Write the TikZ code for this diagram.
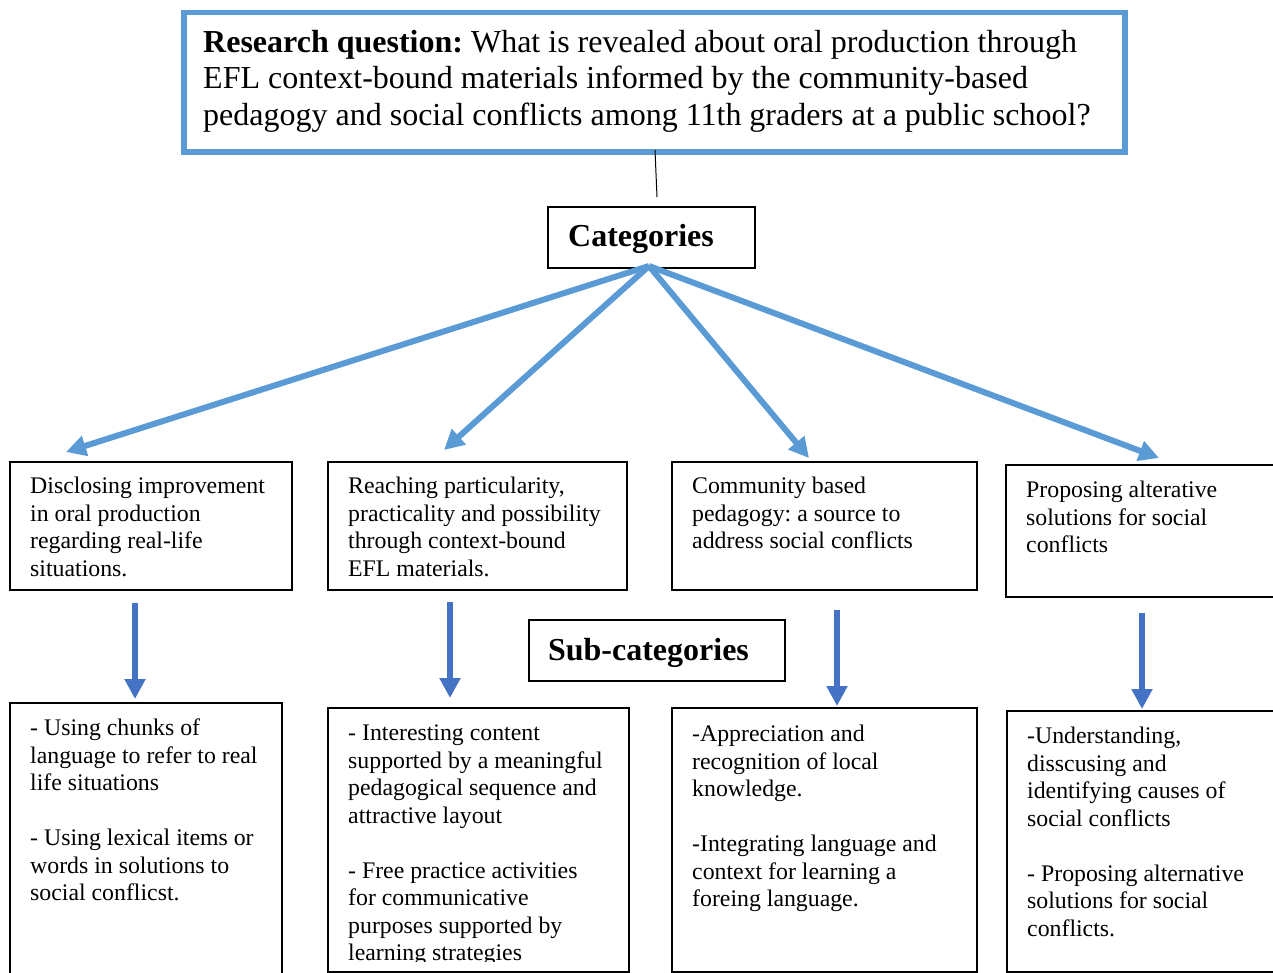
\documentclass[tikz,border=0pt]{standalone}
\usepackage{fontspec}
\setmainfont{Liberation Serif}
\usetikzlibrary{arrows.meta}
\definecolor{lblue}{RGB}{91,155,213}
\definecolor{dblue}{RGB}{68,114,196}
\frenchspacing
\begin{document}
\begin{tikzpicture}[x=1pt,y=-1pt,
  box/.style={draw=black,line width=1.6pt,anchor=north west,inner sep=0pt},
  rqbox/.style={draw=lblue,line width=5.5pt,anchor=north west,inner sep=0pt},
  txt/.style={anchor=north west,inner sep=0pt,align=left,font=\fontsize{23.8}{27.5}\selectfont},
  rqtxt/.style={anchor=north west,inner sep=0pt,align=left,font=\fontsize{32}{36.6}\selectfont},
  lbl/.style={inner sep=0pt,font=\fontsize{32}{36}\selectfont\bfseries},
  toparr/.style={draw=lblue,line width=6pt,-{Triangle[width=20pt,length=20pt]}},
  downarr/.style={draw=dblue,line width=5.3pt,-{Triangle[width=20pt,length=20pt]}}]
\useasboundingbox (0,0) rectangle (1273,973);
% research question
\node[rqbox,minimum width=941pt,minimum height=139.5pt] (rq) at (181,10) {};
\node[rqtxt] (rqt) at (203,30) {\textbf{Research question:} What is revealed about oral production through\\EFL context-bound materials informed by the community-based\\pedagogy and social conflicts among 11th graders at a public school?};
% categories
\node[box,minimum width=207pt,minimum height=61pt] (cat) at (547,206) {};
\node[lbl] (catt) at (641,238.5) {Categories};
\coordinate (rqb) at (655,150);
\coordinate (catt0) at (657,197);
\draw[line width=1pt] (rqb) -- (catt0);
% sub-categories
\node[box,minimum width=256pt,minimum height=61pt] (sub) at (528,619) {};
\node[lbl] (subt) at (648.5,652.5) {Sub-categories};
% top boxes
\node[box,minimum width=282pt,minimum height=128pt] (A) at (9,461) {};
\node[box,minimum width=299pt,minimum height=128pt] (B) at (327,461) {};
\node[box,minimum width=305pt,minimum height=128pt] (C) at (671,461) {};
\node[box,minimum width=290pt,minimum height=132pt] (D) at (1005,464) {};
\node[txt] (At) at (30,477) {Disclosing improvement\\in oral production\\regarding real-life\\situations.};
\node[txt] (Bt) at (348,477) {Reaching particularity,\\practicality and possibility\\through context-bound\\EFL materials.};
\node[txt] (Ct) at (692,477) {Community based\\pedagogy: a source to\\address social conflicts};
\node[txt] (Dt) at (1026,481) {Proposing alterative\\solutions for social\\conflicts};
% bottom boxes
\node[box,minimum width=272pt,minimum height=300pt] (A2) at (9,702) {};
\node[box,minimum width=301pt,minimum height=264pt] (B2) at (327,707) {};
\node[box,minimum width=305pt,minimum height=264pt] (C2) at (671,707) {};
\node[box,minimum width=290pt,minimum height=261pt] (D2) at (1006,710) {};
\node[txt] (A2t) at (30,719) {- Using chunks of\\language to refer to real\\life situations\\[27.5pt]- Using lexical items or\\words in solutions to\\social conflicst.};
\begin{scope}
\clip (327,707) rectangle (628,961);
\node[txt] (B2t) at (348,725) {- Interesting content\\supported by a meaningful\\pedagogical sequence and\\attractive layout\\[27.5pt]- Free practice activities\\for communicative\\purposes supported by\\learning strategies};
\end{scope}
\node[txt] (C2t) at (692,725) {-Appreciation and\\recognition of local\\knowledge.\\[27.5pt]-Integrating language and\\context for learning a\\foreing language.};
\node[txt] (D2t) at (1027,727) {-Understanding,\\disscusing and\\identifying causes of\\social conflicts\\[27.5pt]- Proposing alternative\\solutions for social\\conflicts.};
% top arrows
\coordinate (cs) at (649,266);
\coordinate (tA) at (66,452);
\coordinate (tB) at (444,450);
\coordinate (tC) at (809,458);
\coordinate (tD) at (1159,458);
\draw[toparr] (cs) -- (tA);
\draw[toparr] (cs) -- (tB);
\draw[toparr] (cs) -- (tC);
\draw[toparr] (cs) -- (tD);
% down arrows
\coordinate (a1) at (135,603); \coordinate (a2) at (135,699);
\coordinate (b1) at (450,602); \coordinate (b2) at (450,698);
\coordinate (c1) at (837,610); \coordinate (c2) at (837,706);
\coordinate (d1) at (1142,613); \coordinate (d2) at (1142,709);
\draw[downarr] (a1) -- (a2);
\draw[downarr] (b1) -- (b2);
\draw[downarr] (c1) -- (c2);
\draw[downarr] (d1) -- (d2);
\end{tikzpicture}
\end{document}
